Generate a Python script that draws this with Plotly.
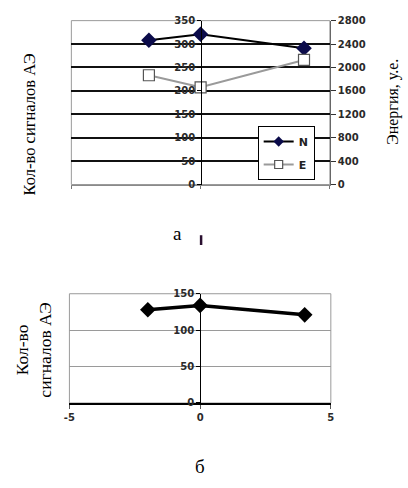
import plotly.graph_objects as go

W, H = 408, 488

# data
x_pos = [-2, 0, 4]
n_top = [308, 321, 291]
e_top = [1867, 1661, 2128]
n_bottom = [128, 134, 121]

y_left_ticks = [0, 50, 100, 150, 200, 250, 300, 350]
y_grid_top = [50, 100, 150, 200, 250, 300]
y_right_ticks = [0, 400, 800, 1200, 1600, 2000, 2400, 2800]
y_bottom_ticks = [0, 50, 100, 150]
x_ticks = [-5, 0, 5]
x_tick_text = ["-5", "0", "5"]


def px(x):
    return x / W


def py(y):
    return 1 - y / H


tick_font = dict(family="DejaVu Sans", size=10, color="#2a2a2a", weight="bold")
serif = "Liberation Serif"

fig = go.Figure()

fig.add_trace(go.Scatter(
    x=x_pos, y=n_top, name="N", mode="lines+markers", showlegend=False,
    line=dict(color="black", width=2),
    marker=dict(symbol="diamond", size=12, color="#0b0b4a"),
    xaxis="x", yaxis="y"))
fig.add_trace(go.Scatter(
    x=x_pos, y=e_top, name="E", mode="lines+markers", showlegend=False,
    line=dict(color="#9a9a9a", width=2),
    marker=dict(symbol="square", size=11, color="white",
                line=dict(color="#555555", width=1.2)),
    xaxis="x", yaxis="y2"))
# legend-only entries (smaller markers like the reference legend)
fig.add_trace(go.Scatter(
    x=[None], y=[None], name="N", mode="lines+markers", legendgroup="n",
    line=dict(color="black", width=2),
    marker=dict(symbol="diamond", size=8, color="#0b0b4a"),
    xaxis="x", yaxis="y"))
fig.add_trace(go.Scatter(
    x=[None], y=[None], name="E", mode="lines+markers", legendgroup="e",
    line=dict(color="#9a9a9a", width=2),
    marker=dict(symbol="square", size=8, color="white",
                line=dict(color="#555555", width=1.2)),
    xaxis="x", yaxis="y2"))
# carrier for the grid axis
fig.add_trace(go.Scatter(
    x=[None], y=[None], showlegend=False, hoverinfo="skip",
    mode="markers", xaxis="x", yaxis="y3"))
fig.add_trace(go.Scatter(
    x=x_pos, y=n_bottom, name="N2", mode="lines+markers", showlegend=False,
    line=dict(color="black", width=3.5),
    marker=dict(symbol="diamond", size=12, color="black"),
    xaxis="x2", yaxis="y4"))

top_dom_x = [px(67), px(332)]
top_dom_y = [py(183), py(15)]
bot_dom_x = [px(65), px(333)]
bot_dom_y = [py(407), py(295)]

fig.update_layout(
    width=W, height=H,
    margin=dict(l=0, r=0, t=0, b=0),
    paper_bgcolor="white", plot_bgcolor="white",
    xaxis=dict(domain=top_dom_x, range=[-5, 5], tickvals=x_ticks,
               showticklabels=False, showgrid=False, zeroline=False,
               ticks="outside", ticklen=3, tickcolor="#777777",
               showline=True, linecolor="#8a8a8a", linewidth=1,
               anchor="y"),
    yaxis=dict(domain=top_dom_y, range=[0, 350], tickvals=y_left_ticks,
               anchor="free", position=px(200), showgrid=False,
               zeroline=False, showline=True, linecolor="black",
               linewidth=1, ticks="outside", ticklen=4, tickcolor="black",
               tickfont=tick_font),
    yaxis2=dict(overlaying="y", side="right", anchor="x", range=[0, 2800],
                tickvals=y_right_ticks, showgrid=False, zeroline=False,
                showline=True, linecolor="#666666", linewidth=1,
                ticks="outside", ticklen=5, tickcolor="#333333",
                tickfont=tick_font),
    yaxis3=dict(overlaying="y", range=[0, 350], tickvals=y_grid_top,
                showticklabels=False, showgrid=True, gridcolor="#111111",
                gridwidth=2, zeroline=False, anchor="x", ticks=""),
    xaxis2=dict(domain=bot_dom_x, range=[-5, 5], tickvals=x_ticks,
                ticktext=x_tick_text,
                showgrid=False, zeroline=False, showline=True,
                linecolor="black", linewidth=2, ticks="outside", ticklen=4,
                tickcolor="#555555", tickfont=tick_font, anchor="y4"),
    yaxis4=dict(domain=bot_dom_y, range=[0, 150], tickvals=y_bottom_ticks,
                anchor="free", position=px(199), showgrid=True,
                gridcolor="#9a9a9a", gridwidth=1, zeroline=False,
                showline=True, linecolor="black", linewidth=1,
                ticks="outside", ticklen=4, tickcolor="black",
                tickfont=tick_font),
    legend=dict(x=px(258), y=py(123), xanchor="left", yanchor="top",
                bgcolor="white", bordercolor="black", borderwidth=1,
                font=dict(family="DejaVu Sans", size=11, color="#222",
                          weight="bold"),
                tracegroupgap=4, itemwidth=30),
    showlegend=True,
)

fig.add_shape(type="rect", xref="x domain", yref="y domain",
              x0=0, x1=1, y0=0, y1=1, line=dict(color="#9a9a9a", width=1),
              layer="below")
fig.add_shape(type="rect", xref="x2 domain", yref="y4 domain",
              x0=0, x1=1, y0=0, y1=1, line=dict(color="#9a9a9a", width=1),
              layer="below")
# small stray mark below top chart
fig.add_shape(type="line", xref="paper", yref="paper",
              x0=px(200), x1=px(200), y0=py(235), y1=py(245),
              line=dict(color="#2a1030", width=2.5))

ann = [
    dict(text="Кол-во сигналов АЭ", x=px(24), y=py(121), textangle=-90,
         font=dict(family=serif, size=16.5, color="black")),
    dict(text="Энергия, у.е.", x=px(396), y=py(98), textangle=-90,
         font=dict(family=serif, size=16, color="black")),
    dict(text="а", x=px(176), y=py(233),
         font=dict(family=serif, size=19, color="black")),
    dict(text="Кол-во<br>сигналов АЭ", x=px(28), y=py(353), textangle=-90,
         font=dict(family=serif, size=17.5, color="black")),
    dict(text="б", x=px(199), y=py(472),
         font=dict(family=serif, size=19, color="black")),
]
for a in ann:
    fig.add_annotation(xref="paper", yref="paper", showarrow=False,
                       xanchor="center", yanchor="middle", **a)

fig.write_html("out.html",
               config={"displayModeBar": False},
               post_script="document.body.style.margin='0';")
